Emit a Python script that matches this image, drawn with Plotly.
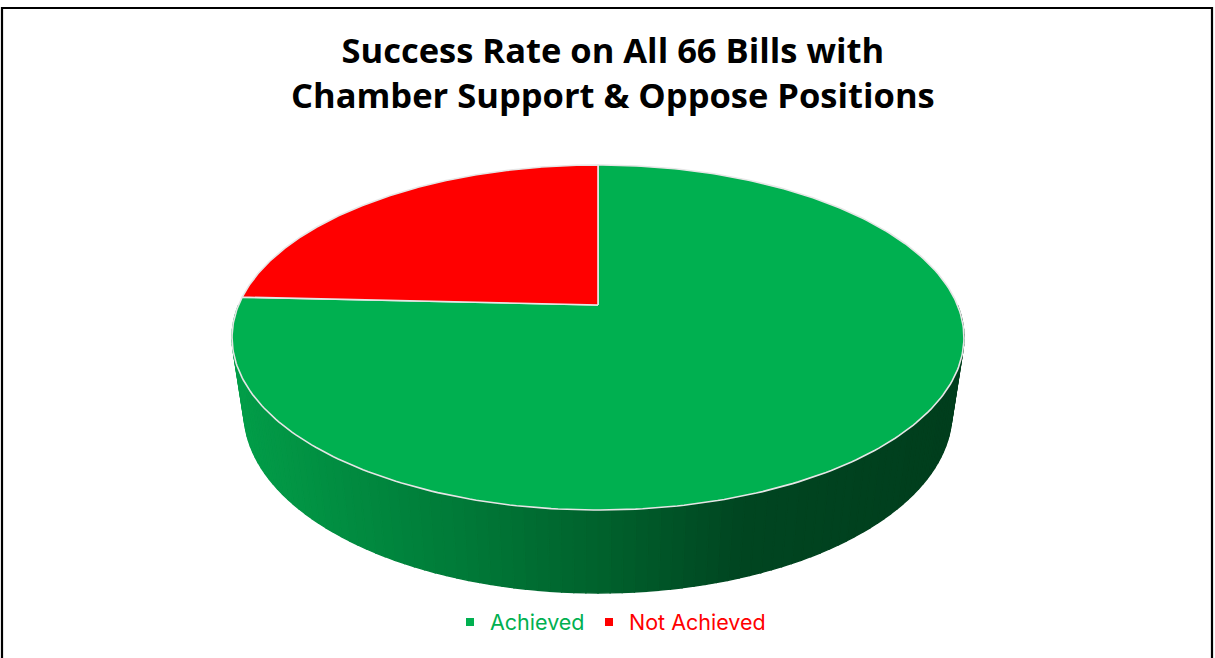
import numpy as np
import plotly.graph_objects as go

# ---- data ----
categories = ["Achieved", "Not Achieved"]
values = [50, 16]
slice_colors = ["#00B050", "#FF0000"]
title_lines = ["Success Rate on All 66 Bills with", "Chamber Support & Oppose Positions"]

# ---- 3D pie projection parameters (pixel space) ----
W, H = 1215, 658
cx, cy = 598.0, 305.0
Sx, Sz = 359.4, 166.4
k = 0.1884          # perspective along depth
c = 0.0326          # perspective of bottom plane
D = 76.7            # thickness offset


def top_pt(theta):
    x, z = np.sin(theta), np.cos(theta)
    w = 1 + k * z
    return cx + Sx * x / w, cy - Sz * z / w


def bot_pt(theta):
    x, z = np.sin(theta), np.cos(theta)
    w = 1 + c + k * z
    return cx + Sx * x / w, cy + (D - Sz * z) / w


def wall_color(xpix):
    xs = [235, 450, 600, 740, 960]
    rs = [3, 0, 0, 0, 0]
    gs = [158, 124, 98, 70, 62]
    bs = [73, 57, 45, 33, 29]
    r = np.interp(xpix, xs, rs)
    g = np.interp(xpix, xs, gs)
    b = np.interp(xpix, xs, bs)
    return f"rgb({int(r)},{int(g)},{int(b)})"


fig = go.Figure()

total = sum(values)
angles = np.cumsum([0] + values) / total * 2 * np.pi

# ---- side wall (front half, gradient strips) ----
n_strips = 110
th_edges = np.linspace(np.pi / 2, 3 * np.pi / 2, n_strips + 1)
for i in range(n_strips):
    a0, a1 = th_edges[i], th_edges[i + 1]
    sub = np.linspace(a0, a1, 4)
    tx, ty = zip(*[top_pt(t) for t in sub])
    bx, by = zip(*[bot_pt(t) for t in sub[::-1]])
    xs = list(tx) + list(bx) + [tx[0]]
    ys = list(ty) + list(by) + [ty[0]]
    col = wall_color(np.mean(xs))
    fig.add_trace(go.Scatter(
        x=xs, y=ys, mode="lines", fill="toself", fillcolor=col,
        line=dict(color=col, width=1.4), hoverinfo="skip", showlegend=False))

# ---- top face slices ----
for i, (cat, val) in enumerate(zip(categories, values)):
    th = np.linspace(angles[i], angles[i + 1], 300)
    pts = [top_pt(t) for t in th]
    xs = [cx] + [p[0] for p in pts] + [cx]
    ys = [cy] + [p[1] for p in pts] + [cy]
    fig.add_trace(go.Scatter(
        x=xs, y=ys, mode="lines", fill="toself", fillcolor=slice_colors[i],
        line=dict(color="#E6E6E6", width=1.6), name=cat,
        hovertemplate=f"{cat}: {val}<extra></extra>", showlegend=False))

# ---- legend entries ----
fig.add_trace(go.Scatter(x=[None], y=[None], mode="markers", name=categories[0],
                         marker=dict(symbol="square", size=8, color=slice_colors[0]),
                         legend="legend"))
fig.add_trace(go.Scatter(x=[None], y=[None], mode="markers", name=categories[1],
                         marker=dict(symbol="square", size=8, color=slice_colors[1]),
                         legend="legend2"))

fig.add_annotation(x=613, y=24, xref="x", yref="y", yanchor="top",
                   text="<br>".join(title_lines), showarrow=False,
                   font=dict(family="Open Sans", size=34.5, color="#000000", weight="bold"),
                   align="center")

fig.add_shape(type="rect", xref="x", yref="y", x0=2, x1=1212, y0=8, y1=670,
              line=dict(color="#000000", width=2.2), fillcolor="rgba(0,0,0,0)")

fig.update_layout(
    width=W, height=H,
    margin=dict(l=0, r=0, t=0, b=0),
    paper_bgcolor="#FFFFFF", plot_bgcolor="#FFFFFF",
    xaxis=dict(range=[0, W], visible=False, fixedrange=True),
    yaxis=dict(range=[H, 0], visible=False, fixedrange=True),
    legend=dict(x=450 / W, y=1 - 622 / H, xanchor="left", yanchor="middle",
                orientation="h", font=dict(family="Inter", size=21.5, color="#00B050"),
                bgcolor="rgba(0,0,0,0)", itemwidth=30),
    legend2=dict(x=589 / W, y=1 - 622 / H, xanchor="left", yanchor="middle",
                 orientation="h", font=dict(family="Inter", size=21.5, color="#FF0000"),
                 bgcolor="rgba(0,0,0,0)", itemwidth=30),
    showlegend=True,
)

fig.write_html("out.html", config={"displayModeBar": False},
               post_script="document.body.style.margin='0px';")
